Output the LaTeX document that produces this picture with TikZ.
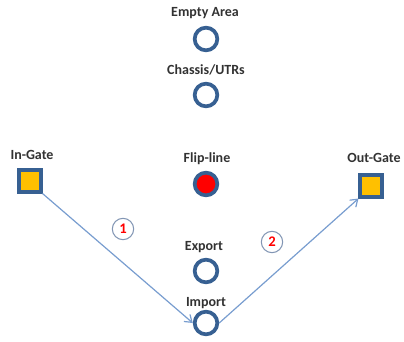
\documentclass[tikz,border=0pt]{standalone}
\usepackage{fontspec}
\setmainfont{Carlito}
\usetikzlibrary{arrows.meta,positioning}
\definecolor{ringblue}{RGB}{55,96,146}
\definecolor{flowblue}{RGB}{120,157,207}
\definecolor{stepgray}{RGB}{130,150,180}
\definecolor{gategold}{RGB}{255,192,0}
\definecolor{labelgray}{RGB}{50,50,50}

\begin{document}
\begin{tikzpicture}[
    x=0.75pt,y=-0.75pt,
    zone/.style={circle,draw=ringblue,line width=2.8pt,minimum size=17pt,inner sep=0pt,fill=white},
    gate/.style={rectangle,draw=ringblue,line width=2.8pt,minimum size=16pt,inner sep=0pt,fill=gategold},
    caption/.style={font=\bfseries\fontsize{10.5}{11}\selectfont,text=labelgray},
    flow/.style={-{Straight Barb[length=5pt,width=7pt]},flowblue,line width=0.9pt},
    stepno/.style={circle,draw=stepgray,line width=0.8pt,minimum size=16pt,inner sep=0pt,text=red,font=\bfseries\fontsize{11}{11}\selectfont}
]
\useasboundingbox (0,0) rectangle (404,342);

% Zones along the middle
\node[zone] (empty) at (206,39) {};
\node[zone] (chassis) at (206,95) {};
\node[zone,fill=red] (flip) at (206,184) {};
\node[zone] (export) at (206,271) {};
\node[zone] (import) at (206,323) {};

% Gates
\node[gate] (ingate) at (30,181) {};
\node[gate] (outgate) at (371,186) {};

% Labels
\node[caption] at (205,13) {Empty Area};
\node[caption] at (206,70) {Chassis/UTRs};
\node[caption] at (207,159) {Flip-line};
\node[caption] at (204,247) {Export};
\node[caption] at (206,303) {Import};
\node[caption] at (32,155) {In-Gate};
\node[caption] at (374,158) {Out-Gate};

% Moves
\draw[flow] (ingate.south east) -- (import.west);
\draw[flow] (import.east) -- (outgate.south west);

% Step numbers
\node[stepno] (one) at (123,229) {1};
\node[stepno] (two) at (272,242) {2};

\end{tikzpicture}
\end{document}
